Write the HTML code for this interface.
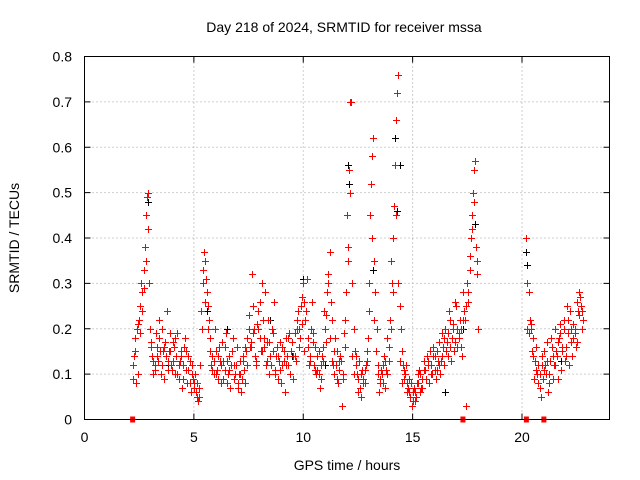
<!DOCTYPE html>
<html><head><meta charset="utf-8"><style>
body{margin:0;background:#fff;}
svg{display:block;font-family:"Liberation Sans",sans-serif;}
</style></head><body>
<svg id="chart" width="640" height="480" xmlns="http://www.w3.org/2000/svg">
<rect width="640" height="480" fill="#fff"/>
<text x="344" y="32" font-size="14" text-anchor="middle">Day 218 of 2024, SRMTID for receiver mssa</text>
<text transform="translate(19,238) rotate(-90)" font-size="14" text-anchor="middle">SRMTID / TECUs</text>
<text x="347" y="470" font-size="14" text-anchor="middle">GPS time / hours</text>
<g id="grid"></g>
<g id="marks"></g>
<rect x="84.5" y="56.5" width="525" height="363" fill="none" stroke="#000" stroke-width="1"/>
<g id="ticks"></g>
</svg>
<script>
const xTicks=[0,5,10,15,20];
const yTicks=[0,0.1,0.2,0.3,0.4,0.5,0.6,0.7,0.8];
const yTickLabels=["0","0.1","0.2","0.3","0.4","0.5","0.6","0.7","0.8"];
const redTimes=[2.2,2.3,2.4,2.5,2.6,2.7,2.8,2.9,3.0,3.1,3.2,3.3,3.4,3.5,3.6,3.7,3.8,3.9,4.0,4.1,4.2,4.3,4.4,4.5,4.6,4.7,4.8,4.9,5.0,5.1,5.2,5.3,5.4,5.5,5.6,5.7,5.8,5.9,6.0,6.1,6.2,6.3,6.4,6.5,6.6,6.7,6.8,6.9,7.0,7.1,7.2,7.3,7.4,7.5,7.6,7.7,7.8,7.9,8.0,8.1,8.2,8.3,8.4,8.5,8.6,8.7,8.8,8.9,9.0,9.1,9.2,9.3,9.4,9.5,9.6,9.7,9.8,9.9,10.0,10.1,10.2,10.3,10.4,10.5,10.6,10.7,10.8,10.9,11.0,11.1,11.2,11.3,11.4,11.5,11.6,11.7,11.8,11.9,12.0,12.1,12.2,12.3,12.4,12.5,12.6,12.7,12.8,12.9,13.0,13.1,13.2,13.3,13.4,13.5,13.6,13.7,13.8,13.9,14.0,14.1,14.2,14.3,14.4,14.5,14.6,14.7,14.8,14.9,15.0,15.1,15.2,15.3,15.4,15.5,15.6,15.7,15.8,15.9,16.0,16.1,16.2,16.3,16.4,16.5,16.6,16.7,16.8,16.9,17.0,17.1,17.2,17.3,17.4,17.5,17.6,17.7,17.8,17.9,18.0,
2.25,2.35,2.45,2.55,2.65,2.75,2.85,2.95,3.05,3.15,3.25,3.35,3.45,3.55,3.65,3.75,3.85,3.95,4.05,4.15,4.25,4.35,4.45,4.55,4.65,4.75,4.85,4.95,5.05,5.15,5.25,5.35,5.45,5.55,5.65,5.75,5.85,5.95,6.05,6.15,6.25,6.35,6.45,6.55,6.65,6.75,6.85,6.95,7.05,7.15,7.25,7.35,7.45,7.55,7.65,7.75,7.85,7.95,8.05,8.15,8.25,8.35,8.45,8.55,8.65,8.75,8.85,8.95,9.05,9.15,9.25,9.35,9.45,9.55,9.65,9.75,9.85,9.95,10.05,10.15,10.25,10.35,10.45,10.55,10.65,10.75,10.85,10.95,11.05,11.15,11.25,11.35,11.45,11.55,11.65,11.75,11.85,11.95,12.05,12.15,12.25,12.35,12.45,12.55,12.65,12.75,12.85,12.95,13.05,13.15,13.25,13.35,13.45,13.55,13.65,13.75,13.85,13.95,14.05,14.15,14.25,14.35,14.45,14.55,14.65,14.75,14.85,14.95,15.05,15.15,15.25,15.35,15.45,15.55,15.65,15.75,15.85,15.95,16.05,16.15,16.25,16.35,16.45,16.55,16.65,16.75,16.85,16.95,17.05,17.15,17.25,17.35,17.45,17.55,17.65,17.75,17.85,17.95,
20.2,20.3,20.4,20.5,20.6,20.7,20.8,20.9,21.0,21.1,21.2,21.3,21.4,21.5,21.6,21.7,21.8,21.9,22.0,22.1,22.2,22.3,22.4,22.5,22.6,22.7,22.8,
20.25,20.35,20.45,20.55,20.65,20.75,20.85,20.95,21.05,21.15,21.25,21.35,21.45,21.55,21.65,21.75,21.85,21.95,22.05,22.15,22.25,22.35,22.45,22.55,22.65,22.75];
const redValues=[0.09,0.18,0.2,0.22,0.3,0.33,0.45,0.5,0.2,0.14,0.12,0.16,0.22,0.1,0.15,0.17,0.13,0.19,0.11,0.16,0.14,0.09,0.15,0.12,0.18,0.08,0.13,0.1,0.07,0.06,0.04,0.12,0.3,0.35,0.28,0.22,0.12,0.1,0.15,0.09,0.13,0.17,0.11,0.08,0.14,0.12,0.18,0.1,0.07,0.13,0.09,0.11,0.15,0.2,0.17,0.25,0.14,0.21,0.18,0.3,0.16,0.12,0.22,0.14,0.19,0.11,0.16,0.13,0.08,0.15,0.18,0.12,0.1,0.17,0.14,0.2,0.16,0.25,0.3,0.22,0.18,0.14,0.26,0.12,0.1,0.15,0.09,0.13,0.2,0.28,0.37,0.22,0.15,0.12,0.08,0.14,0.1,0.16,0.45,0.55,0.7,0.2,0.12,0.09,0.07,0.11,0.08,0.13,0.3,0.52,0.62,0.28,0.12,0.08,0.1,0.14,0.11,0.16,0.35,0.4,0.56,0.72,0.25,0.15,0.09,0.12,0.07,0.05,0.06,0.04,0.08,0.11,0.07,0.13,0.09,0.12,0.15,0.1,0.14,0.11,0.17,0.13,0.16,0.2,0.14,0.22,0.18,0.15,0.25,0.19,0.16,0.28,0.22,0.3,0.36,0.45,0.55,0.38,0.2,
0.14,0.08,0.21,0.25,0.28,0.38,0.49,0.3,0.16,0.1,0.19,0.13,0.15,0.2,0.09,0.24,0.15,0.12,0.17,0.1,0.19,0.13,0.07,0.16,0.11,0.14,0.06,0.09,0.1,0.08,0.05,0.2,0.37,0.31,0.25,0.18,0.14,0.2,0.11,0.16,0.08,0.13,0.19,0.1,0.07,0.15,0.12,0.16,0.1,0.06,0.14,0.08,0.12,0.16,0.32,0.2,0.12,0.24,0.15,0.22,0.28,0.17,0.1,0.2,0.26,0.14,0.09,0.17,0.12,0.06,0.14,0.19,0.15,0.09,0.13,0.24,0.18,0.21,0.26,0.31,0.12,0.2,0.17,0.16,0.11,0.07,0.14,0.24,0.17,0.32,0.26,0.12,0.18,0.09,0.13,0.03,0.19,0.28,0.38,0.7,0.3,0.15,0.1,0.13,0.05,0.09,0.12,0.18,0.45,0.58,0.35,0.2,0.06,0.11,0.08,0.13,0.18,0.22,0.3,0.47,0.66,0.76,0.2,0.12,0.1,0.06,0.09,0.03,0.07,0.05,0.1,0.06,0.09,0.11,0.14,0.08,0.12,0.16,0.09,0.13,0.1,0.19,0.12,0.17,0.24,0.13,0.2,0.26,0.16,0.22,0.14,0.24,0.03,0.26,0.4,0.5,0.57,0.32,
0.4,0.28,0.2,0.18,0.13,0.1,0.07,0.12,0.15,0.1,0.06,0.13,0.09,0.2,0.14,0.18,0.11,0.22,0.16,0.19,0.24,0.14,0.2,0.17,0.28,0.25,0.22,
0.2,0.22,0.15,0.09,0.16,0.12,0.05,0.09,0.12,0.17,0.08,0.16,0.12,0.15,0.09,0.21,0.16,0.13,0.25,0.12,0.2,0.18,0.16,0.24,0.27,0.2];
const red2Times=[2.225,2.325,2.425,2.525,2.625,2.725,2.825,2.925,3.025,3.125,3.225,3.325,3.425,3.525,3.625,3.725,3.825,3.925,4.025,4.125,4.225,4.325,4.425,4.525,4.625,4.725,4.825,4.925,5.025,5.125,5.225,5.325,5.425,5.525,5.625,5.725,5.825,5.925,6.025,6.125,6.225,6.325,6.425,6.525,6.625,6.725,6.825,6.925,7.025,7.125,7.225,7.325,7.425,7.525,7.625,7.725,7.825,7.925,8.025,8.125,8.225,8.325,8.425,8.525,8.625,8.725,8.825,8.925,9.025,9.125,9.225,9.325,9.425,9.525,9.625,9.725,9.825,9.925,10.025,10.125,10.225,10.325,10.425,10.525,10.625,10.725,10.825,10.925,11.025,11.125,11.225,11.325,11.425,11.525,11.625,11.725,11.825,11.925,12.025,12.125,12.225,12.325,12.425,12.525,12.625,12.725,12.825,12.925,13.025,13.125,13.225,13.325,13.425,13.525,13.625,13.725,13.825,13.925,14.025,14.125,14.225,14.325,14.425,14.525,14.625,14.725,14.825,14.925,15.025,15.125,15.225,15.325,15.425,15.525,15.625,15.725,15.825,15.925,16.025,16.125,16.225,16.325,16.425,16.525,16.625,16.725,16.825,16.925,17.025,17.125,17.225,17.325,17.425,17.525,17.625,17.725,17.825,17.925,
20.225,20.325,20.425,20.525,20.625,20.725,20.825,20.925,21.025,21.125,21.225,21.325,21.425,21.525,21.625,21.725,21.825,21.925,22.025,22.125,22.225,22.325,22.425,22.525,22.625,22.725];
const red2Values=[0.12,0.15,0.1,0.19,0.24,0.29,0.35,0.42,0.17,0.13,
0.11,0.14,0.18,0.12,0.16,0.14,0.11,0.15,0.13,0.18,
0.1,0.12,0.14,0.09,0.15,0.11,0.08,0.12,0.08,0.05,
0.07,0.24,0.33,0.26,0.2,0.15,0.11,0.13,0.1,0.14,
0.12,0.09,0.16,0.13,0.11,0.15,0.09,0.12,0.08,0.1,
0.13,0.16,0.18,0.23,0.16,0.19,0.13,0.2,0.26,0.15,
0.18,0.13,0.17,0.12,0.15,0.1,0.14,0.11,0.16,0.13,
0.12,0.18,0.15,0.14,0.19,0.22,0.2,0.27,0.15,0.24,
0.16,0.13,0.19,0.11,0.14,0.1,0.12,0.16,0.23,0.3,
0.18,0.13,0.1,0.15,0.11,0.13,0.09,0.22,0.35,0.5,
0.14,0.1,0.14,0.06,0.1,0.08,0.11,0.15,0.24,0.4,
0.22,0.15,0.1,0.09,0.12,0.07,0.1,0.13,0.2,0.28,
0.45,0.3,0.13,0.08,0.11,0.08,0.06,0.08,0.04,0.06,
0.08,0.1,0.07,0.11,0.09,0.13,0.1,0.14,0.11,0.15,
0.12,0.14,0.18,0.15,0.19,0.16,0.21,0.17,0.2,0.18,
0.2,0.22,0.25,0.28,0.33,0.42,0.48,0.35,
0.3,0.19,0.21,0.14,0.11,0.08,0.1,0.14,0.11,0.13,0.1,0.18,0.14,0.12,0.17,0.19,0.15,0.2,0.14,0.22,0.17,0.21,0.19,0.26,0.23,0.24];
const blackTimes=[12.05,12.1,14.2,14.4,14.3,17.85,20.25,20.2,2.9,10.0,13.2,5.6,8.5,17.3,11.0,6.5,16.5,3.8,9.5,21.8];
const blackValues=[0.56,0.52,0.62,0.56,0.46,0.43,0.34,0.37,0.48,0.31,0.33,0.24,0.22,0.2,0.12,0.2,0.06,0.12,0.14,0.13];
const gapTimes=[2.2,17.3,20.2,21.0];

const X0=84.5,X1=609.5,Y0=419.5,Y1=56.5,XMAX=24,YMAX=0.8;
const sx=t=>X0+(X1-X0)*t/XMAX;
const sy=v=>Y0-(Y0-Y1)*v/YMAX;
const NS="http://www.w3.org/2000/svg";
const grid=document.getElementById('grid'),ticks=document.getElementById('ticks'),marks=document.getElementById('marks');
function mk(tag,attrs,parent){const e=document.createElementNS(NS,tag);for(const k in attrs)e.setAttribute(k,attrs[k]);parent.appendChild(e);return e;}
xTicks.forEach(t=>{
  const x=sx(t);
  if(t>0){const g=mk('line',{x1:x,x2:x,y1:Y0,y2:Y1,stroke:'#a0a0a0','stroke-dasharray':'1,3'},grid);
  
  }
  mk('line',{x1:x,x2:x,y1:Y0,y2:Y0-6,stroke:'#000'},ticks);
  mk('line',{x1:x,x2:x,y1:Y1,y2:Y1+6,stroke:'#000'},ticks);
  const l=mk('text',{x:x,y:442,'font-size':14,'text-anchor':'middle'},ticks);l.textContent=t;
  
  
});
yTicks.forEach((v,i)=>{
  const y=sy(v);
  if(v>0&&v<YMAX){const g=mk('line',{x1:X0,x2:X1,y1:y,y2:y,stroke:'#a0a0a0','stroke-dasharray':'1,3'},grid);
  
  }
  mk('line',{x1:X0,x2:X0+6,y1:y,y2:y,stroke:'#000'},ticks);
  mk('line',{x1:X1,x2:X1-6,y1:y,y2:y,stroke:'#000'},ticks);
  const l=mk('text',{x:72,y:y+5,'font-size':14,'text-anchor':'end'},ticks);l.textContent=yTickLabels[i];
  
  
});
function plus(t,v,col,name){
  const x=Math.round(sx(t))+0.5,y=Math.round(sy(v))+0.5;
  const p=mk('path',{d:`M${x-3.5},${y}H${x+3.5}M${x},${y-3.5}V${y+3.5}`,stroke:col,'stroke-width':1,fill:'none'},marks);
  
  
}
blackTimes.forEach((t,i)=>plus(t,blackValues[i],'#000','black-point'));
redTimes.forEach((t,i)=>plus(t,redValues[i],'#f00','red-point'));
red2Times.forEach((t,i)=>plus(t,red2Values[i],'#f00','red-point'));
gapTimes.forEach(t=>{
  const r=mk('rect',{x:sx(t)-2.5,y:Y0-3,width:5,height:6,fill:'#f00'},marks);
  
  
});
</script>
</body></html>
